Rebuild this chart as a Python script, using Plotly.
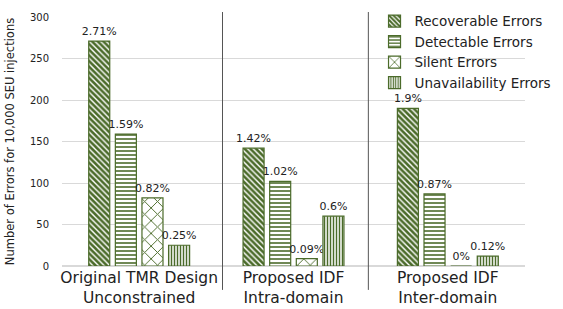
import plotly.graph_objects as go

categories = ["Original TMR Design<br>Unconstrained", "Proposed IDF<br>Intra-domain", "Proposed IDF<br>Inter-domain"]
series_names = ["Recoverable Errors", "Detectable Errors", "Silent Errors", "Unavailability Errors"]
recoverable = [271, 142, 190]
detectable = [159, 102, 87]
silent = [82, 9, 0]
unavailability = [25, 60, 12]
recoverable_lbl = ["2.71%", "1.42%", "1.9%"]
detectable_lbl = ["1.59%", "1.02%", "0.87%"]
silent_lbl = ["0.82%", "0.09%", "0%"]
unavailability_lbl = ["0.25%", "0.6%", "0.12%"]
y_ticks = [0, 50, 100, 150, 200, 250, 300]

values = [recoverable, detectable, silent, unavailability]
labels = [recoverable_lbl, detectable_lbl, silent_lbl, unavailability_lbl]
patterns = [("\\", 4, 0.65), ("-", 4, 0.4), ("x", 9, 0.2), ("|", 3, 0.5)]

green = "#4b6b2a"
FONT = "DejaVu Sans"

fig = go.Figure()
xs = list(range(len(categories)))
for name, vals, lbl, (shape, size, sol) in zip(series_names, values, labels, patterns):
    fig.add_trace(go.Bar(
        x=xs, y=vals, name=name, text=lbl, textposition="outside",
        constraintext="none", cliponaxis=False,
        textfont=dict(size=11, color="#222", family=FONT),
        marker=dict(color="white", line=dict(color=green, width=1.2),
                    pattern=dict(shape=shape, fgcolor=green, bgcolor="white",
                                 size=size, solidity=sol, fillmode="replace")),
    ))

for xv in [0.54, 1.485]:
    fig.add_shape(type="line", xref="x", yref="paper", x0=xv, x1=xv, y0=-0.096, y1=1.02,
                  line=dict(color="#555", width=1))

fig.update_layout(
    width=563, height=309,
    margin=dict(l=62, r=38, t=17, b=43, autoexpand=False),
    paper_bgcolor="white", plot_bgcolor="white",
    barmode="group", bargap=0.31, bargroupgap=0.21,
    font=dict(family=FONT, color="#222"),
    legend=dict(x=0.675, y=1.045, xanchor="left", yanchor="top",
                font=dict(size=13.5, family=FONT, color="#222"),
                bgcolor="rgba(255,255,255,0)", tracegroupgap=0, itemwidth=30),
    xaxis=dict(tickmode="array", tickvals=xs, ticktext=categories,
               tickfont=dict(size=15.5, family=FONT, color="#222"),
               showgrid=False, showline=False, ticks="", range=[-0.5, 2.5]),
    yaxis=dict(range=[0, 300], tickvals=y_ticks, showgrid=True, gridcolor="#d9d9d9",
               zeroline=True, zerolinecolor="#d9d9d9", showline=False,
               tickfont=dict(size=10, family=FONT, color="#222"), ticklen=10, ticks="outside",
               tickcolor="white",
               title=dict(text="Number of Errors for 10,000 SEU injections",
                          font=dict(size=11.5, family=FONT, color="#222"), standoff=12)),
    showlegend=True,
)

fig.write_html("out.html", config={"displayModeBar": False},
               post_script="document.body.style.margin='0';")
